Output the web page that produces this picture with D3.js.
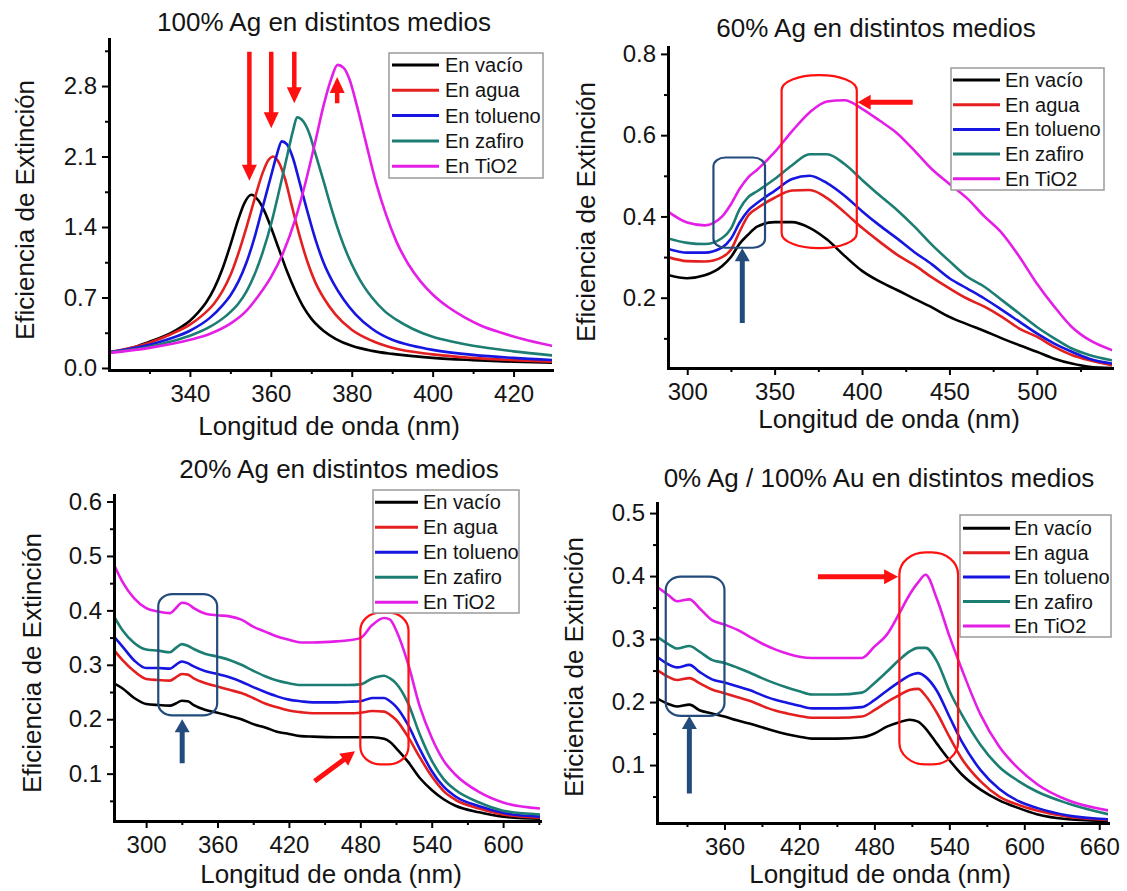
<!DOCTYPE html>
<html>
<head>
<meta charset="utf-8">
<script src="https://cdn.jsdelivr.net/npm/d3@7"></script>
<style>
  body { margin: 0; background: #ffffff; }
  svg { display: block; }
</style>
</head>
<body>
<svg id="chart" width="1127" height="891"></svg>
<script>
// ---------------- DATA ----------------
const seriesNames = ["En vacío", "En agua", "En tolueno", "En zafiro", "En TiO2"];
const seriesColors = ["#000000", "#e3201f", "#1616e0", "#1c7d72", "#e41ee6"];

// Panel A : 100% Ag (each series has its own wavelength points)
const titleA = "100% Ag en distintos medios";
const aVacioX = [320,325,330,335,338,340,342,344,346,348,350,352,353.5,355.2,357,358.5,360,362,364,366,368,370,373,376,380,385,390,400,410,420,429.5];
const aVacioY = [0.155,0.19,0.26,0.34,0.41,0.47,0.55,0.65,0.79,0.98,1.22,1.48,1.64,1.72,1.66,1.55,1.40,1.18,0.96,0.77,0.61,0.49,0.37,0.29,0.22,0.17,0.14,0.10,0.078,0.062,0.052];
const aAguaX = [320,330,335,340,343,346,348,350,352,354,356,358,359.5,360.5,362,363.5,365,367,369,371,373,376,380,385,390,400,410,420,429.5];
const aAguaY = [0.155,0.25,0.33,0.43,0.52,0.64,0.76,0.92,1.14,1.40,1.68,1.94,2.07,2.10,2.04,1.88,1.64,1.33,1.06,0.85,0.70,0.53,0.38,0.27,0.20,0.135,0.10,0.078,0.062];
const aToluenoX = [320,330,335,340,345,348,350,352,354,356,358,360,361.5,362.7,364,365.5,367,369,371,373,375.5,378,381,385,390,395,400,410,420,429.5];
const aToluenoY = [0.155,0.23,0.29,0.37,0.50,0.62,0.72,0.86,1.05,1.30,1.60,1.90,2.12,2.25,2.22,2.08,1.86,1.56,1.28,1.05,0.84,0.68,0.53,0.39,0.28,0.22,0.18,0.13,0.10,0.08];
const aZafiroX = [320,330,335,340,345,349,352,354,356,358,360,362,364,365.5,366.5,368,369.5,371,373,375,377,379,381,383,385,388,391,395,400,405,410,420,429.5];
const aZafiroY = [0.155,0.21,0.26,0.32,0.41,0.52,0.64,0.76,0.93,1.15,1.42,1.75,2.10,2.36,2.49,2.45,2.33,2.13,1.86,1.58,1.33,1.12,0.95,0.81,0.70,0.57,0.48,0.39,0.31,0.26,0.22,0.165,0.125];
const aTiO2X = [320,330,340,345,350,354,357,360,363,366,368.5,371,373,375,376.5,378,379.5,381.3,383.5,386,388.5,391,394,397,400,404,408,412,417,422,429.5];
const aTiO2Y = [0.15,0.20,0.28,0.34,0.44,0.57,0.72,0.90,1.14,1.47,1.83,2.25,2.60,2.88,3.01,2.98,2.86,2.60,2.24,1.84,1.52,1.26,1.03,0.86,0.73,0.60,0.50,0.42,0.35,0.29,0.22];
const aXTicks = [340,360,380,400,420];
const aYTicks = [0.0,0.7,1.4,2.1,2.8];

// Panel B : 60% Ag
const titleB = "60% Ag en distintos medios";
const bWl = [289,300,310,320,325,330,335,340,350,360,370,380,390,400,410,420,430,440,450,460,470,480,490,500,510,520,530,543];
const bVacio = [0.256,0.248,0.255,0.278,0.300,0.333,0.356,0.375,0.386,0.386,0.372,0.343,0.303,0.266,0.240,0.219,0.197,0.176,0.153,0.135,0.118,0.100,0.083,0.067,0.050,0.038,0.030,0.027];
const bAgua = [0.300,0.290,0.289,0.300,0.318,0.363,0.403,0.420,0.446,0.464,0.465,0.445,0.410,0.372,0.338,0.306,0.280,0.250,0.223,0.198,0.178,0.153,0.124,0.104,0.079,0.059,0.046,0.034];
const bTolueno = [0.320,0.311,0.311,0.324,0.345,0.385,0.415,0.433,0.463,0.492,0.500,0.482,0.451,0.413,0.378,0.346,0.312,0.282,0.248,0.223,0.198,0.170,0.141,0.112,0.087,0.067,0.050,0.038];
const bZafiro = [0.346,0.335,0.332,0.347,0.370,0.418,0.448,0.462,0.492,0.526,0.553,0.553,0.529,0.490,0.452,0.416,0.375,0.330,0.290,0.252,0.227,0.194,0.161,0.128,0.100,0.075,0.059,0.046];
const bTiO2 = [0.412,0.385,0.378,0.400,0.430,0.468,0.497,0.515,0.558,0.610,0.656,0.683,0.686,0.665,0.636,0.605,0.562,0.516,0.480,0.445,0.400,0.359,0.301,0.235,0.178,0.128,0.096,0.071];
const bXTicks = [300,350,400,450,500];
const bYTicks = [0.2,0.4,0.6,0.8];

// Panel C : 20% Ag
const titleC = "20% Ag en distintos medios";
const cWl = [273,280,290,300,310,320,325,330,335,340,350,360,370,380,390,400,410,420,430,440,460,470,480,490,500,505,510,520,530,540,550,560,580,600,631];
const cVacio = [0.266,0.257,0.239,0.228,0.226,0.225,0.229,0.234,0.233,0.226,0.217,0.212,0.206,0.200,0.191,0.185,0.177,0.173,0.169,0.168,0.167,0.167,0.167,0.167,0.164,0.158,0.147,0.122,0.092,0.070,0.053,0.041,0.029,0.021,0.017];
const cAgua = [0.327,0.309,0.288,0.274,0.272,0.271,0.277,0.283,0.282,0.275,0.266,0.260,0.254,0.248,0.239,0.229,0.222,0.216,0.213,0.211,0.211,0.211,0.212,0.215,0.214,0.208,0.199,0.168,0.130,0.095,0.068,0.052,0.036,0.025,0.019];
const cTolueno = [0.352,0.334,0.308,0.294,0.294,0.293,0.300,0.306,0.303,0.297,0.288,0.283,0.277,0.269,0.259,0.250,0.242,0.236,0.233,0.231,0.231,0.232,0.233,0.239,0.239,0.233,0.223,0.190,0.145,0.105,0.076,0.058,0.040,0.028,0.021];
const cZafiro = [0.389,0.364,0.340,0.328,0.326,0.323,0.331,0.338,0.335,0.329,0.320,0.315,0.309,0.300,0.289,0.279,0.271,0.266,0.263,0.263,0.263,0.263,0.264,0.275,0.280,0.275,0.266,0.230,0.172,0.124,0.090,0.070,0.047,0.032,0.025];
const cTiO2 = [0.484,0.453,0.422,0.404,0.398,0.395,0.404,0.414,0.412,0.404,0.394,0.391,0.389,0.383,0.370,0.361,0.352,0.346,0.341,0.341,0.343,0.345,0.349,0.373,0.386,0.383,0.364,0.303,0.223,0.166,0.124,0.098,0.066,0.047,0.036];
const cXTicks = [300,360,420,480,540,600];
const cYTicks = [0.1,0.2,0.3,0.4,0.5,0.6];

// Panel D : 0% Ag / 100% Au
const titleD = "0% Ag / 100% Au en distintos medios";
const dWl = [306,315,322,332,340,350,360,370,380,390,400,410,420,430,450,470,480,490,500,508,515,521,530,540,550,565,580,595,610,635,667];
const dVacio = [0.206,0.197,0.193,0.196,0.187,0.182,0.177,0.171,0.166,0.160,0.154,0.149,0.145,0.142,0.142,0.144,0.150,0.161,0.168,0.172,0.169,0.158,0.134,0.108,0.085,0.061,0.044,0.032,0.022,0.014,0.011];
const dAgua = [0.251,0.240,0.235,0.238,0.230,0.220,0.214,0.208,0.202,0.194,0.187,0.182,0.178,0.175,0.175,0.177,0.187,0.200,0.211,0.219,0.221,0.210,0.183,0.145,0.110,0.074,0.050,0.037,0.028,0.018,0.013];
const dTolueno = [0.272,0.260,0.255,0.259,0.248,0.236,0.231,0.225,0.219,0.211,0.204,0.199,0.194,0.190,0.190,0.192,0.203,0.218,0.232,0.242,0.246,0.240,0.218,0.177,0.137,0.092,0.062,0.043,0.032,0.020,0.014];
const dZafiro = [0.304,0.292,0.285,0.289,0.280,0.267,0.262,0.255,0.247,0.238,0.230,0.223,0.217,0.212,0.212,0.215,0.230,0.248,0.267,0.280,0.286,0.286,0.265,0.218,0.180,0.132,0.097,0.075,0.058,0.039,0.022];
const dTiO2 = [0.383,0.370,0.360,0.363,0.349,0.330,0.323,0.315,0.304,0.293,0.284,0.277,0.272,0.270,0.270,0.270,0.288,0.307,0.341,0.370,0.390,0.402,0.364,0.305,0.252,0.180,0.129,0.095,0.070,0.044,0.028];
const dXTicks = [360,420,480,540,600,660];
const dYTicks = [0.1,0.2,0.3,0.4,0.5];

// Annotations (data coordinates): highlight boxes [x0,x1,yLow,yHigh] and arrows [x1,y1,x2,y2]
const aArrows = [[354.7,3.14,354.7,1.86],[360.1,3.14,360.1,2.38],[365.8,3.14,365.8,2.63],[376.4,2.63,376.4,2.89]];
const bBlueBox = [315,344.5,0.323,0.545];
const bBlueArrow = [331.5,0.138,331.5,0.322];
const bRedBox = [354,397,0.322,0.748];
const bRedArrow = [429,0.681,397.5,0.681];
const cBlueBox = [310.2,359.7,0.207,0.430];
const cBlueArrow = [330.3,0.119,330.3,0.200];
const cRedBox = [480,520.5,0.117,0.396];
const cRedArrow = [441.6,0.086,475.5,0.141];
const dBlueBox = [313,360,0.178,0.399];
const dBlueArrow = [331.9,0.055,331.9,0.178];
const dRedBox = [500,547,0.101,0.4375];
const dRedArrow = [434.8,0.399,499,0.399];

// ---------------- LAYOUT ----------------
const FONT = "Arial, 'Liberation Sans', Helvetica, sans-serif";
const TXT = "#141414";
const RED = "#ff1010";
const NAVY = "#234b7c";
const svg = d3.select("#chart");

const panels = [
  { id: "A", title: titleA, titleX: 324, titleY: 31,
    left: 109, right: 552, top: 39, bottom: 370,
    xDomain: [320, 429.5], yDomain: [-0.02, 3.267],
    xTicks: aXTicks, xMinor: [330,350,370,390,410],
    yTicks: aYTicks, yMinor: [0.35,1.05,1.75,2.45,3.15],
    series: [[aVacioX,aVacioY],[aAguaX,aAguaY],[aToluenoX,aToluenoY],[aZafiroX,aZafiroY],[aTiO2X,aTiO2Y]],
    xLabelX: 329, xLabelY: 435, yLabelX: 34, yLabelY: 210,
    legend: { x0: 389, x1: 543, y0: 53, y1: 178, lx0: 392, lx1: 439, tx: 445, ry0: 65, dy: 25.3 },
    boxes: [], arrows: aArrows.map(a => ({ a, color: RED, shaft: 4.5, headL: 16, headW: 15 })) },
  { id: "B", title: titleB, titleX: 876, titleY: 37,
    left: 668, right: 1112, top: 47, bottom: 368,
    xDomain: [289, 543], yDomain: [0.027, 0.817],
    xTicks: bXTicks, xMinor: [325,375,425,475,525],
    yTicks: bYTicks, yMinor: [0.1,0.3,0.5,0.7],
    series: [bVacio,bAgua,bTolueno,bZafiro,bTiO2].map(v => [bWl, v]),
    xLabelX: 889, xLabelY: 428, yLabelX: 595, yLabelY: 212,
    legend: { x0: 951, x1: 1104, y0: 68, y1: 190, lx0: 953, lx1: 1000, tx: 1005, ry0: 80, dy: 24.7 },
    boxes: [ { b: bBlueBox, color: NAVY, rx: 12, ry: 9 }, { b: bRedBox, color: RED, rx: 37, ry: 15 } ],
    arrows: [ { a: bBlueArrow, color: NAVY, shaft: 5, headL: 13, headW: 15 }, { a: bRedArrow, color: RED, shaft: 5, headL: 13, headW: 15 } ] },
  { id: "C", title: titleC, titleX: 339, titleY: 478,
    left: 114, right: 540, top: 495, bottom: 821,
    xDomain: [273, 631], yDomain: [0.013, 0.612],
    xTicks: cXTicks, xMinor: [330,390,450,510,570,630],
    yTicks: cYTicks, yMinor: [0.05,0.15,0.25,0.35,0.45,0.55],
    series: [cVacio,cAgua,cTolueno,cZafiro,cTiO2].map(v => [cWl, v]),
    xLabelX: 331, xLabelY: 883, yLabelX: 41, yLabelY: 663,
    legend: { x0: 373, x1: 519, y0: 490, y1: 613, lx0: 375, lx1: 418, tx: 423, ry0: 502.3, dy: 25 },
    boxes: [ { b: cBlueBox, color: NAVY, rx: 14, ry: 12 }, { b: cRedBox, color: RED, rx: 20, ry: 18 } ],
    arrows: [ { a: cBlueArrow, color: NAVY, shaft: 5, headL: 13, headW: 15 }, { a: cRedArrow, color: RED, shaft: 5, headL: 14, headW: 15 } ] },
  { id: "D", title: titleD, titleX: 879, titleY: 487,
    left: 657, right: 1108, top: 503, bottom: 823,
    xDomain: [306, 667], yDomain: [0.008, 0.516],
    xTicks: dXTicks, xMinor: [330,390,450,510,570,630],
    yTicks: dYTicks, yMinor: [0.05,0.15,0.25,0.35,0.45],
    series: [dVacio,dAgua,dTolueno,dZafiro,dTiO2].map(v => [dWl, v]),
    xLabelX: 880, xLabelY: 883, yLabelX: 583, yLabelY: 667,
    legend: { x0: 960, x1: 1111, y0: 515, y1: 637, lx0: 963, lx1: 1010, tx: 1014, ry0: 528.3, dy: 24.4 },
    boxes: [ { b: dBlueBox, color: NAVY, rx: 15, ry: 13 }, { b: dRedBox, color: RED, rx: 26, ry: 22 } ],
    arrows: [ { a: dBlueArrow, color: NAVY, shaft: 5, headL: 13, headW: 15 }, { a: dRedArrow, color: RED, shaft: 5, headL: 14, headW: 15 } ] }
];

function arrowPath(x1, y1, x2, y2, shaft, headL, headW) {
  const dx = x2 - x1, dy = y2 - y1, len = Math.hypot(dx, dy);
  const ux = dx / len, uy = dy / len, nx = -uy, ny = ux;
  const bx = x2 - ux * headL, by = y2 - uy * headL;
  const s = shaft / 2, h = headW / 2;
  const pts = [
    [x1 + nx * s, y1 + ny * s], [bx + nx * s, by + ny * s], [bx + nx * h, by + ny * h],
    [x2, y2], [bx - nx * h, by - ny * h], [bx - nx * s, by - ny * s], [x1 - nx * s, y1 - ny * s]
  ];
  return "M" + pts.map(p => p[0].toFixed(2) + "," + p[1].toFixed(2)).join("L") + "Z";
}

panels.forEach(p => {
  const x = d3.scaleLinear().domain(p.xDomain).range([p.left, p.right]);
  const y = d3.scaleLinear().domain(p.yDomain).range([p.bottom, p.top]);
  const g = svg.append("g").attr("class", "panel-" + p.id);

  const clipId = "clip" + p.id;
  svg.append("clipPath").attr("id", clipId).append("rect")
    .attr("x", p.left).attr("y", p.top).attr("width", p.right - p.left).attr("height", p.bottom - p.top);

  const line = d3.line().curve(d3.curveMonotoneX).x(d => x(d[0])).y(d => y(d[1]));
  const curves = g.append("g").attr("clip-path", `url(#${clipId})`);
  p.series.forEach((s, i) => {
    curves.append("path").datum(d3.zip(s[0], s[1]))
      .attr("d", line).attr("fill", "none")
      .attr("stroke", seriesColors[i]).attr("stroke-width", 2.6)
      .attr("stroke-linejoin", "round").attr("stroke-linecap", "round");
  });

  // minor ticks
  g.append("g").attr("transform", `translate(0,${p.bottom})`)
    .call(d3.axisBottom(x).tickValues(p.xMinor).tickSize(4).tickSizeOuter(0).tickFormat(""))
    .call(a => a.select(".domain").remove())
    .call(a => a.selectAll("line").attr("stroke", "#000").attr("stroke-width", 2));
  g.append("g").attr("transform", `translate(${p.left},0)`)
    .call(d3.axisLeft(y).tickValues(p.yMinor).tickSize(4).tickSizeOuter(0).tickFormat(""))
    .call(a => a.select(".domain").remove())
    .call(a => a.selectAll("line").attr("stroke", "#000").attr("stroke-width", 2));

  // major axes
  const gx = g.append("g").attr("transform", `translate(0,${p.bottom})`)
    .call(d3.axisBottom(x).tickValues(p.xTicks).tickSize(7).tickSizeOuter(0).tickPadding(8).tickFormat(d3.format("d")));
  const gy = g.append("g").attr("transform", `translate(${p.left},0)`)
    .call(d3.axisLeft(y).tickValues(p.yTicks).tickSize(7).tickSizeOuter(0).tickPadding(5).tickFormat(d3.format(".1f")));
  [gx, gy].forEach(a => {
    a.attr("font-family", FONT).attr("font-size", 24);
    a.select(".domain").attr("stroke", "#000").attr("stroke-width", 3).attr("stroke-linecap", "square");
    a.selectAll(".tick line").attr("stroke", "#000").attr("stroke-width", 2);
    a.selectAll(".tick text").attr("fill", TXT);
  });

  // annotation boxes
  p.boxes.forEach(bx => {
    const [x0, x1, y0, y1] = bx.b;
    g.append("rect").attr("x", x(x0)).attr("y", y(y1))
      .attr("width", x(x1) - x(x0)).attr("height", y(y0) - y(y1))
      .attr("rx", bx.rx).attr("ry", bx.ry)
      .attr("fill", "none").attr("stroke", bx.color).attr("stroke-width", 2.2);
  });
  // arrows
  p.arrows.forEach(ar => {
    const [x1, y1, x2, y2] = ar.a;
    g.append("path").attr("d", arrowPath(x(x1), y(y1), x(x2), y(y2), ar.shaft, ar.headL, ar.headW))
      .attr("fill", ar.color);
  });

  // legend
  const L = p.legend;
  const lg = g.append("g");
  lg.append("rect").attr("x", L.x0).attr("y", L.y0).attr("width", L.x1 - L.x0).attr("height", L.y1 - L.y0)
    .attr("fill", "#fff").attr("stroke", "#9a9a9a").attr("stroke-width", 1.5);
  seriesNames.forEach((n, i) => {
    const ry = L.ry0 + i * L.dy;
    lg.append("line").attr("x1", L.lx0).attr("x2", L.lx1).attr("y1", ry).attr("y2", ry)
      .attr("stroke", seriesColors[i]).attr("stroke-width", 3);
    lg.append("text").attr("x", L.tx).attr("y", ry).attr("dy", "0.35em")
      .attr("font-family", FONT).attr("font-size", 20).attr("fill", TXT).text(n);
  });

  // title and axis labels
  g.append("text").attr("x", p.titleX).attr("y", p.titleY).attr("text-anchor", "middle")
    .attr("font-family", FONT).attr("font-size", 26).attr("fill", TXT).text(p.title);
  g.append("text").attr("x", p.xLabelX).attr("y", p.xLabelY).attr("text-anchor", "middle")
    .attr("font-family", FONT).attr("font-size", 26).attr("fill", TXT).text("Longitud de onda (nm)");
  g.append("text").attr("transform", `translate(${p.yLabelX},${p.yLabelY}) rotate(-90)`)
    .attr("text-anchor", "middle")
    .attr("font-family", FONT).attr("font-size", 26).attr("fill", TXT).text("Eficiencia de Extinción");
});
</script>
</body>
</html>
